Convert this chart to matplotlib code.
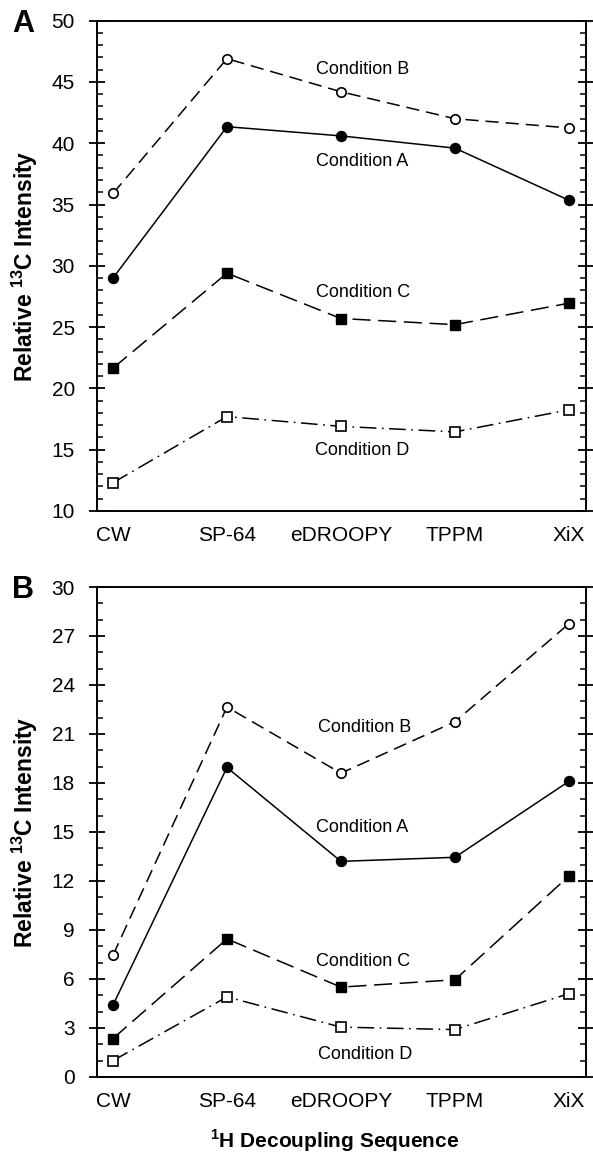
import matplotlib
matplotlib.use("Agg")
import matplotlib.pyplot as plt
from matplotlib.ticker import MultipleLocator

plt.rcParams['font.family'] = ['Liberation Sans', 'DejaVu Sans']
plt.rcParams['lines.scale_dashes'] = False

categories = ["CW", "SP-64", "eDROOPY", "TPPM", "XiX"]

# Panel A
a_condA = [29.0, 41.35, 40.6, 39.6, 35.35]
a_condB = [35.9, 46.9, 44.2, 42.0, 41.25]
a_condC = [21.65, 29.4, 25.7, 25.2, 26.95]
a_condD = [12.3, 17.7, 16.9, 16.45, 18.25]

# Panel B
b_condA = [4.4, 18.95, 13.2, 13.45, 18.1]
b_condB = [7.45, 22.65, 18.6, 21.75, 27.75]
b_condC = [2.35, 8.45, 5.5, 5.95, 12.3]
b_condD = [1.0, 4.9, 3.05, 2.9, 5.1]

fig = plt.figure(figsize=(5.93, 11.61), dpi=100)
axA = fig.add_axes([0.1636, 0.5599, 0.8246, 0.4223])
axB = fig.add_axes([0.1636, 0.0724, 0.8246, 0.4220])

styles = {
    'A': dict(color='black', lw=1.1, marker='o', ms=7.2, mfc='black', mec='black', mew=1.0, dashes=None),
    'B': dict(color='black', lw=1.1, marker='o', ms=6.8, mfc='white', mec='black', mew=1.2, dashes=(9.5, 5)),
    'C': dict(color='black', lw=1.1, marker='s', ms=6.8, mfc='black', mec='black', mew=1.0, dashes=(13, 5.5)),
    'D': dict(color='black', lw=1.1, marker='s', ms=6.8, mfc='white', mec='black', mew=1.2, dashes=(12, 4, 1.2, 4)),
}

def draw(ax, series, ylim, major, labels):
    x = list(range(len(categories)))
    for key, vals in series.items():
        st = dict(styles[key])
        dashes = st.pop('dashes')
        line, = ax.plot(x, vals, **st, zorder=3)
        if dashes is not None:
            line.set_dashes(dashes)
    ax.set_xlim(-0.14, 4.15)
    ax.set_ylim(*ylim)
    ax.yaxis.set_major_locator(MultipleLocator(major))
    ax.yaxis.set_minor_locator(MultipleLocator(1))
    ax.set_xticks(x)
    ax.set_xticklabels(categories, fontsize=15)
    ax.tick_params(axis='x', length=0, pad=11)
    ax.tick_params(axis='y', which='major', direction='inout', length=11, width=1.3,
                   left=True, right=True, labelsize=15, pad=10.5)
    ax.tick_params(axis='y', which='minor', direction='in', length=4.5, width=1.1,
                   left=True, right=True)
    for s in ax.spines.values():
        s.set_linewidth(1.4)
    for txt, (lx, ly) in labels.items():
        ax.text(lx, ly, txt, fontsize=13, ha='center', va='center', zorder=4)
    ax.set_ylabel("Relative $^{\\mathregular{13}}$C Intensity", fontsize=16.5, fontweight='bold')
    ax.yaxis.set_label_coords(-0.117, 0.5)

draw(axA, {'B': a_condB, 'A': a_condA, 'C': a_condC, 'D': a_condD}, (10, 50), 5,
     {"Condition B": (2.19, 46.0), "Condition A": (2.19, 38.5),
      "Condition C": (2.19, 27.8), "Condition D": (2.19, 14.95)})
draw(axB, {'B': b_condB, 'A': b_condA, 'C': b_condC, 'D': b_condD}, (0, 30), 3,
     {"Condition B": (2.21, 21.4), "Condition A": (2.19, 15.25),
      "Condition C": (2.19, 7.05), "Condition D": (2.21, 1.35)})

fig.text(0.5636, 1 - 1141 / 1161, "$^{\\mathregular{1}}$H Decoupling Sequence",
         fontsize=15, fontweight='bold', ha='center', va='center')

fig.text(0.020, 1 - 24 / 1161, "A", fontsize=22, fontweight='bold', ha='left', va='center')
fig.text(0.020, 1 - 590 / 1161, "B", fontsize=22, fontweight='bold', ha='left', va='center')

fig.savefig("out.png", dpi=100)
